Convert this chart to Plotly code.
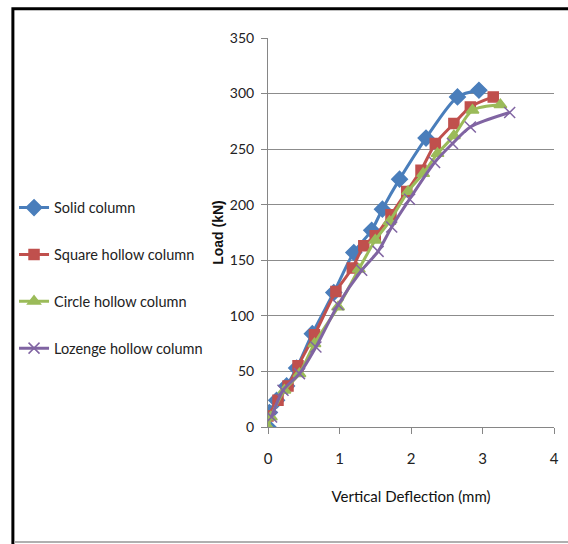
import plotly.graph_objects as go

# Data
solid_x = [0, 0.02, 0.12, 0.26, 0.40, 0.62, 0.92, 1.20, 1.45, 1.60, 1.84, 2.21, 2.65, 2.95]
solid_y = [0, 13, 24, 37, 53, 84, 121, 157, 177, 196, 223, 260, 297, 303]

square_x = [0, 0.14, 0.28, 0.42, 0.65, 0.95, 1.18, 1.34, 1.50, 1.72, 1.94, 2.14, 2.34, 2.60, 2.83, 3.15]
square_y = [10, 24, 37, 55, 83, 122, 143, 163, 172, 191, 212, 231, 255, 273, 288, 297]

circle_x = [0, 0.04, 0.23, 0.44, 0.65, 0.98, 1.27, 1.50, 1.70, 1.96, 2.17, 2.37, 2.60, 2.86, 3.25]
circle_y = [0, 9, 33, 48, 75, 108, 142, 168, 185, 212, 228, 246, 262, 285, 290]

lozenge_x = [0.05, 0.21, 0.44, 0.67, 0.98, 1.31, 1.54, 1.73, 1.98, 2.33, 2.58, 2.83, 3.38]
lozenge_y = [9, 33, 48, 72, 110, 141, 158, 180, 205, 238, 255, 270, 283]

series_names = ["Solid column", "Square hollow column", "Circle hollow column", "Lozenge hollow column"]
x_ticks = [0, 1, 2, 3, 4]
y_ticks = [0, 50, 100, 150, 200, 250, 300, 350]

NARROW = "Lato, Roboto, sans-serif"

fig = go.Figure()
specs = [
    (solid_x, solid_y, "#4A7EBB", "diamond", 12),
    (square_x, square_y, "#C0504D", "square", 10),
    (circle_x, circle_y, "#9BBB59", "triangle-up", 11),
    (lozenge_x, lozenge_y, "#8064A2", "x-thin-open", 11),
]
for i, (xs, ys, col, sym, sz) in enumerate(specs):
    fig.add_trace(go.Scatter(
        x=xs, y=ys, name=series_names[i], mode="lines+markers",
        line=dict(color=col, width=3, shape="spline", smoothing=0.8),
        marker=dict(symbol=sym, size=sz, color=col, line=dict(color=col, width=1.5)),
        legendgroup=f"g{i}",
    ))

fig.update_layout(
    width=568, height=544,
    margin=dict(l=268, r=9, t=38, b=117),
    paper_bgcolor="white", plot_bgcolor="white",
    showlegend=True,
    legend=dict(x=-0.888, y=0.605, xanchor="left", yanchor="top",
                font=dict(family=NARROW, size=14.5, color="#222"),
                itemwidth=30,
                tracegroupgap=25, bgcolor="rgba(0,0,0,0)"),
    xaxis=dict(range=[0, 4], tickvals=x_ticks, showgrid=False, zeroline=False,
               showline=True, linecolor="#868686", linewidth=1,
               ticks="outside", ticklen=6, tickcolor="#868686",
               ticklabelstandoff=12,
               tickfont=dict(family=NARROW, size=15, color="#222"),
               title=dict(text="Vertical Deflection (mm)", standoff=25,
                          font=dict(family=NARROW, size=15, color="#111"))),
    yaxis=dict(range=[0, 350], tickvals=y_ticks, showgrid=True, gridcolor="#8c8c8c", gridwidth=1,
               zeroline=False, showline=True, linecolor="#868686", linewidth=1,
               ticks="outside", ticklen=6, tickcolor="#868686",
               ticklabelstandoff=4,
               tickfont=dict(family=NARROW, size=14, color="#222"),
               title=dict(text="<b>Load (kN)</b>", standoff=2,
                          font=dict(family="Liberation Sans, Arial, sans-serif", size=14, color="#111"))),
    shapes=[
        dict(type="rect", xref="paper", yref="paper", x0=-0.892, x1=1.3, y0=-0.35, y1=1.075,
             line=dict(color="black", width=3), fillcolor="rgba(0,0,0,0)", layer="above"),
        dict(type="line", xref="paper", yref="paper", x0=-0.886, x1=1.3, y0=-0.2956, y1=-0.2956,
             line=dict(color="#b0b0b0", width=2)),
    ],
)

fig.write_html("out.html", config={"displayModeBar": False},
               post_script="document.body.style.margin='0px';")
